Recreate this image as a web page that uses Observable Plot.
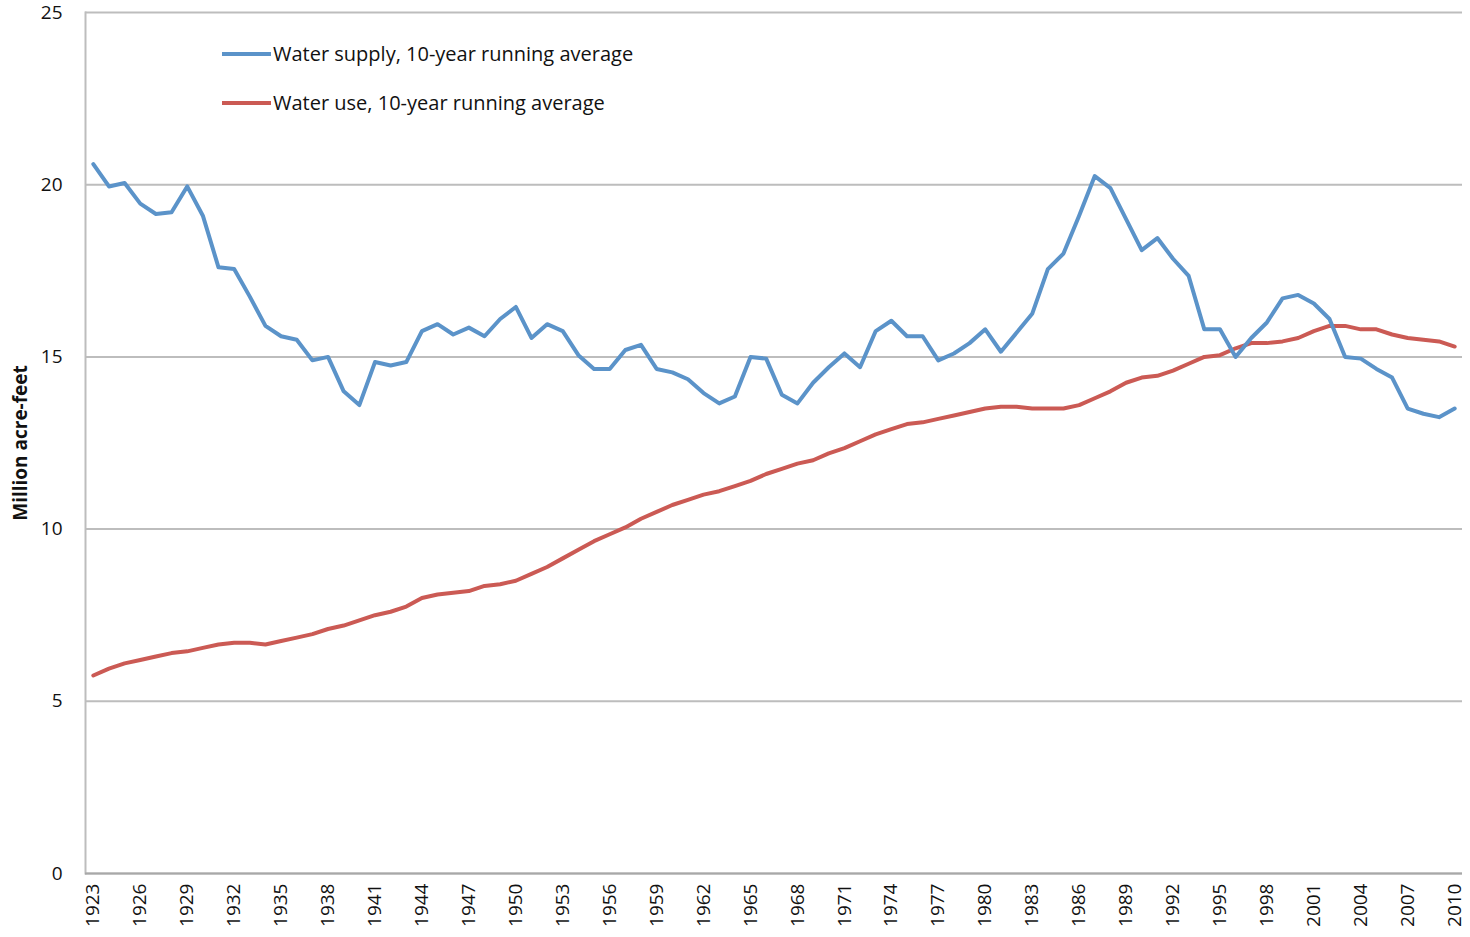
<!DOCTYPE html>
<html>
<head>
<meta charset="utf-8">
<script src="https://cdn.jsdelivr.net/npm/d3@7"></script>
<script src="https://cdn.jsdelivr.net/npm/@observablehq/plot@0.6"></script>
<style>
  html, body { margin: 0; padding: 0; background: #fff; }
  #wrap { position: relative; width: 1470px; height: 937px; font-family: "Open Sans", Lato, sans-serif; }
  .leg { position: absolute; left: 222px; display: flex; align-items: center; font-size: 20px; color: #111; white-space: nowrap; }
  .leg .sw { width: 49px; height: 4px; margin-right: 2px; }
</style>
</head>
<body>
<div id="wrap">
  <div id="chart"></div>
  <div class="leg" style="top:40px"><span class="sw" style="background:#5b93c9"></span>Water supply, 10-year running average</div>
  <div class="leg" style="top:89px"><span class="sw" style="background:#cb5a54"></span>Water use, 10-year running average</div>
</div>
<script>
const years = d3.range(1923, 2011);
const supply = [
  20.6, 19.95, 20.05, 19.45, 19.15, 19.2, 19.95, 19.1, 17.6, 17.55,
  16.75, 15.9, 15.6, 15.5, 14.9, 15.0, 14.0, 13.6, 14.85, 14.75,
  14.85, 15.75, 15.95, 15.65, 15.85, 15.6, 16.1, 16.45, 15.55, 15.95,
  15.75, 15.05, 14.65, 14.65, 15.2, 15.35, 14.65, 14.55, 14.35, 13.95,
  13.65, 13.85, 15.0, 14.95, 13.9, 13.65, 14.25, 14.7, 15.1, 14.7,
  15.75, 16.05, 15.6, 15.6, 14.9, 15.1, 15.4, 15.8, 15.15, 15.7,
  16.25, 17.55, 18.0, 19.1, 20.25, 19.9, 19.0, 18.1, 18.45, 17.85,
  17.35, 15.8, 15.8, 15.0, 15.55, 16.0, 16.7, 16.8, 16.55, 16.1,
  15.0, 14.95, 14.65, 14.4, 13.5, 13.35, 13.25, 13.5
];
const use = [
  5.75, 5.95, 6.1, 6.2, 6.3, 6.4, 6.45, 6.55, 6.65, 6.7,
  6.7, 6.65, 6.75, 6.85, 6.95, 7.1, 7.2, 7.35, 7.5, 7.6,
  7.75, 8.0, 8.1, 8.15, 8.2, 8.35, 8.4, 8.5, 8.7, 8.9,
  9.15, 9.4, 9.65, 9.85, 10.05, 10.3, 10.5, 10.7, 10.85, 11.0,
  11.1, 11.25, 11.4, 11.6, 11.75, 11.9, 12.0, 12.2, 12.35, 12.55,
  12.75, 12.9, 13.05, 13.1, 13.2, 13.3, 13.4, 13.5, 13.55, 13.55,
  13.5, 13.5, 13.5, 13.6, 13.8, 14.0, 14.25, 14.4, 14.45, 14.6,
  14.8, 15.0, 15.05, 15.25, 15.4, 15.4, 15.45, 15.55, 15.75, 15.9,
  15.9, 15.8, 15.8, 15.65, 15.55, 15.5, 15.45, 15.3
];
const xTicks = d3.range(1923, 2011, 3);
const yTicks = [0, 5, 10, 15, 20, 25];

const supplyData = years.map((y, i) => ({year: y, value: supply[i]}));
const useData = years.map((y, i) => ({year: y, value: use[i]}));

const chart = Plot.plot({
  width: 1470,
  height: 937,
  marginLeft: 85,
  marginRight: 8,
  marginTop: 12,
  marginBottom: 64,
  style: {fontFamily: "'Open Sans', Lato, sans-serif", background: "#fff"},
  x: {type: "point", domain: years, padding: 0.5},
  y: {domain: [0, 25]},
  marks: [
    Plot.ruleY(yTicks, {stroke: "#bdbdbd", strokeWidth: 2}),
    Plot.frame({anchor: "left", stroke: "#bdbdbd", strokeWidth: 2}),
    Plot.ruleY([0], {stroke: "#a8a8a8", strokeWidth: 2}),
    Plot.axisY({ticks: yTicks, tickSize: 0, tickPadding: 23, fontSize: 19, fill: "#111",
      label: "Million acre-feet", labelAnchor: "center", labelArrow: "none", labelOffset: 72}),
    Plot.axisX({ticks: xTicks, tickFormat: d => String(d), tickSize: 0, tickPadding: 10, tickRotate: -90, fontSize: 19, fill: "#111", label: null}),
    Plot.line(useData, {x: "year", y: "value", stroke: "#cb5a54", strokeWidth: 4, strokeLinejoin: "round"}),
    Plot.line(supplyData, {x: "year", y: "value", stroke: "#5b93c9", strokeWidth: 4, strokeLinejoin: "round"})
  ]
});
document.getElementById("chart").appendChild(chart);
d3.select(chart).selectAll("[aria-label='y-axis label'] text").style("font-weight", "bold").style("font-size", "19px");
</script>
</body>
</html>
